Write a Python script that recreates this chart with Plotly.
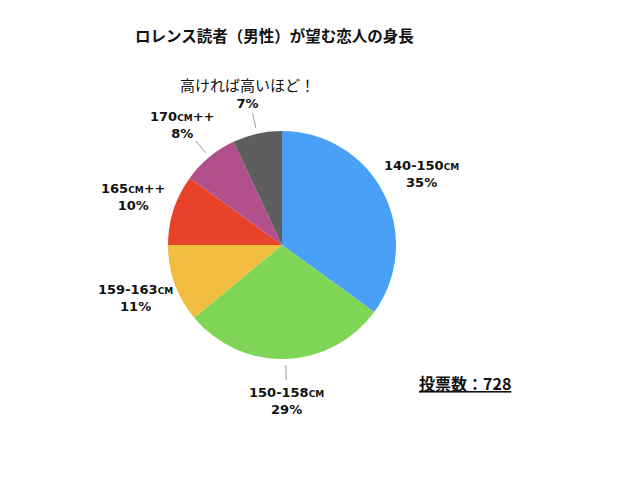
import math
import plotly.graph_objects as go

# データ（投票数 728）
labels = ["140-150cm", "150-158cm", "159-163cm", "165cm++", "170cm++", "高ければ高いほど！"]
percents = [35, 29, 11, 10, 8, 7]
colors = ["#4A9FF6", "#7FD656", "#F0BD41", "#E8432A", "#B1508A", "#5E5E5E"]
leader = [False, True, False, False, True, True]
title = "ロレンス読者（男性）が望む恋人の身長"
votes_text = "投票数：728"

W, H = 640, 480
cx, cy, R = 274, 237, 114   # 円の中心と半径（px）

fig = go.Figure(go.Pie(
    labels=labels,
    values=percents,
    sort=False,
    direction="clockwise",
    rotation=0,
    marker=dict(colors=colors, line=dict(width=0)),
    textinfo="none",
    hoverinfo="label+percent",
    showlegend=False,
    domain=dict(x=[(cx - R) / W, (cx + R) / W], y=[1 - (cy + R) / H, 1 - (cy - R) / H]),
))

# ラベルと引き出し線（各スライスの中央角から計算）
annotations = []
shapes = []
total = sum(percents)
start = 0
for lab, p, line in zip(labels, percents, leader):
    mid = math.radians((start + p / 2) / total * 360)
    start += p
    sx, sy = math.sin(mid), -math.cos(mid)
    lx, ly = cx + 1.37 * R * sx, cy + 1.37 * R * sy
    if lab.endswith("cm") or lab.endswith("++"):
        txt = lab + "<br>" + str(p) + "%"
        font = dict(family="DejaVu Sans", size=13, color="#111111", variant="small-caps", weight="bold")
    else:
        txt = "<span style='font-size:15px;font-family:Noto Sans CJK JP;font-weight:normal'>" + lab + "</span><br>" + str(p) + "%"
        font = dict(family="DejaVu Sans", size=13, color="#111111", weight="bold")
    annotations.append(dict(text=txt, x=lx / W, y=1 - ly / H, xref="paper", yref="paper",
                            xanchor="center", yanchor="middle", showarrow=False, font=font))
    if line:
        shapes.append(dict(type="line", xref="paper", yref="paper",
                           x0=(cx + (R + 6) * sx) / W, y0=1 - (cy + (R + 6) * sy) / H,
                           x1=(cx + (R + 21) * sx) / W, y1=1 - (cy + (R + 21) * sy) / H,
                           line=dict(color="#9A9A9A", width=1)))

annotations.append(dict(text="<b>" + title + "</b>", x=125 / W, y=1 - 27 / H, xref="paper", yref="paper",
                        xanchor="left", yanchor="middle", showarrow=False,
                        font=dict(family="Noto Sans CJK JP", size=15.5, color="#111111")))
annotations.append(dict(text="<b><u>" + votes_text + "</u></b>", x=457 / W, y=1 - 375 / H, xref="paper", yref="paper",
                        xanchor="center", yanchor="middle", showarrow=False,
                        font=dict(family="Noto Sans CJK JP", size=16, color="#111111")))

fig.update_layout(
    width=W, height=H,
    margin=dict(l=0, r=0, t=0, b=0),
    paper_bgcolor="white",
    annotations=annotations,
    shapes=shapes,
)

fig.write_html("out.html")
